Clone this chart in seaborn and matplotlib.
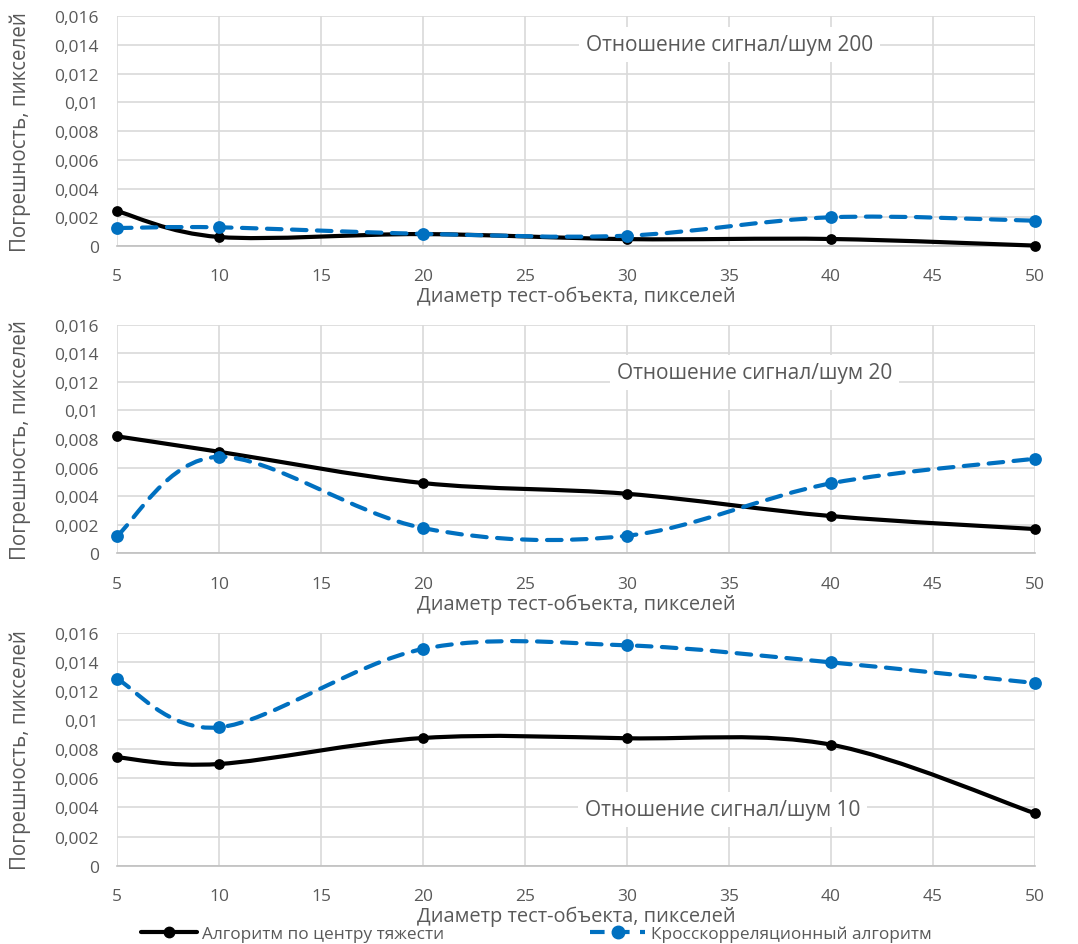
import matplotlib
matplotlib.use("Agg")
import matplotlib.pyplot as plt
import seaborn as sns
import numpy as np
import pandas as pd
from matplotlib.path import Path
from matplotlib.patches import PathPatch
from matplotlib.lines import Line2D
from matplotlib.ticker import FuncFormatter, MultipleLocator

# data
diameters = [5, 10, 20, 30, 40, 50]
centroid_snr200 = [0.00243, 0.00063, 0.00083, 0.00048, 0.00049, 0.00003]
xcorr_snr200 = [0.00125, 0.0013, 0.00085, 0.00072, 0.00200, 0.00176]
centroid_snr20 = [0.00819, 0.00711, 0.00492, 0.00417, 0.00261, 0.00170]
xcorr_snr20 = [0.00123, 0.00676, 0.00177, 0.00123, 0.00490, 0.00662]
centroid_snr10 = [0.00745, 0.00699, 0.00878, 0.00876, 0.00832, 0.00360]
xcorr_snr10 = [0.01284, 0.00951, 0.01490, 0.01515, 0.01398, 0.01256]

panel_titles = ["Отношение сигнал/шум 200", "Отношение сигнал/шум 20",
                "Отношение сигнал/шум 10"]
series_names = ["Алгоритм по центру тяжести", "Кросскорреляционный алгоритм"]
xlabel = "Диаметр тест-объекта, пикселей"
ylabel = "Погрешность, пикселей"

BLUE = "#0070C0"
GREY = "#595959"
GRID = "#d9d9d9"

sns.set_theme(style="white")
plt.rcParams["font.family"] = ["Open Sans", "DejaVu Sans"]


def smooth_path(xs, ys):
    # Excel-like smoothed line: Catmull-Rom segments as cubic Bezier
    pts = np.column_stack([xs, ys]).astype(float)
    n = len(pts)
    verts = [pts[0]]
    codes = [Path.MOVETO]
    for i in range(n - 1):
        p0 = pts[i - 1] if i > 0 else pts[i]
        p1 = pts[i]
        p2 = pts[i + 1]
        p3 = pts[i + 2] if i + 2 < n else pts[i + 1]
        c1 = p1 + (p2 - p0) / 6.0
        c2 = p2 - (p3 - p1) / 6.0
        verts += [c1, c2, p2]
        codes += [Path.CURVE4] * 3
    return Path(verts, codes)


def draw_series(ax, ys, color, ls, lw, size):
    patch = PathPatch(smooth_path(diameters, ys), facecolor="none",
                      edgecolor=color, linestyle=ls, lw=lw,
                      capstyle="round", clip_on=False, zorder=3)
    ax.add_patch(patch)
    df = pd.DataFrame({"x": diameters, "y": ys})
    sns.scatterplot(data=df, x="x", y="y", ax=ax, color=color, s=size,
                    edgecolor=color, linewidth=0, zorder=4, clip_on=False)


fig = plt.figure(figsize=(10.78, 9.45), dpi=100)
left, width = 0.1085, 0.8516
rects = [(0.7386, 0.2434), (0.4134, 0.2419), (0.0829, 0.2462)]
data = [(centroid_snr200, xcorr_snr200), (centroid_snr20, xcorr_snr20),
        (centroid_snr10, xcorr_snr10)]
title_pos = [(0.667, 0.875), (0.695, 0.79), (0.66, 0.24)]

fmt = FuncFormatter(lambda v, p: f"{v:g}".replace(".", ","))

for (b, h), (c, x), title, tp in zip(rects, data, panel_titles, title_pos):
    ax = fig.add_axes([left, b, width, h])
    ax.set_xlim(5, 50)
    ax.set_ylim(0, 0.016)
    ax.xaxis.set_major_locator(MultipleLocator(5))
    ax.yaxis.set_major_locator(MultipleLocator(0.002))
    ax.yaxis.set_major_formatter(fmt)
    ax.grid(True, color=GRID, lw=1.2)
    ax.set_axisbelow(True)
    for s in ["top", "right", "left"]:
        ax.spines[s].set_visible(False)
    ax.spines["bottom"].set_color("#bfbfbf")
    ax.spines["bottom"].set_linewidth(1.2)
    ax.tick_params(axis="both", length=0, labelsize=12.5, colors=GREY)
    ax.tick_params(axis="x", pad=16)
    ax.tick_params(axis="y", pad=13)

    draw_series(ax, c, "black", "-", 3.0, 60)
    draw_series(ax, x, BLUE, (0, (3.5, 2.5)), 3.0, 85)

    h_px = h * 945
    ax.set_xlabel(xlabel, fontsize=14.4, color=GREY)
    ax.xaxis.set_label_coords(0.5, -50 / h_px)
    ax.xaxis.label.set_va("center")
    ax.set_ylabel(ylabel, fontsize=14.8, color=GREY)
    ax.yaxis.set_label_coords(-97 / 918, 0.5)
    ax.yaxis.label.set_va("center")
    ax.text(tp[0], tp[1], title, transform=ax.transAxes, ha="center",
            va="center", fontsize=15, color=GREY, zorder=5,
            bbox=dict(facecolor="white", edgecolor="none", pad=5))

handles = [
    Line2D([0], [0], color="black", lw=3, marker="o", markersize=7.5),
    Line2D([0], [0], color=BLUE, lw=3, ls=(0, (3.5, 2.5)), marker="o",
           markersize=9),
]
fig.legend(handles, series_names, loc="center", bbox_to_anchor=(0.4975, 0.011),
           ncol=2, frameon=False, fontsize=12.4, labelcolor=GREY,
           handlelength=3.2, columnspacing=8.5, handletextpad=0.3)

fig.savefig("out.png", dpi=100)
